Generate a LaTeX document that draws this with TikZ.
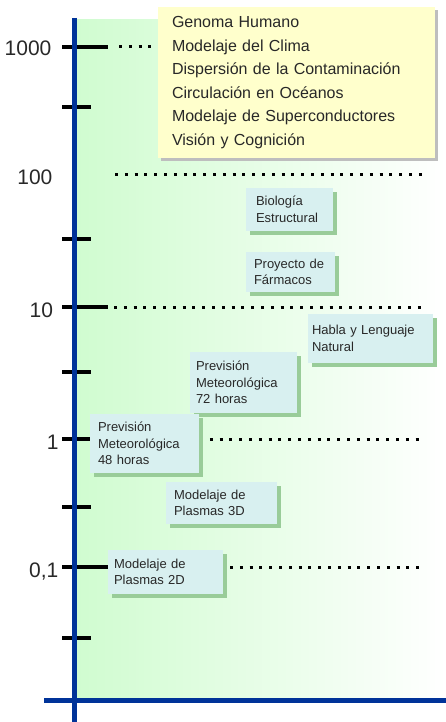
\documentclass[tikz,border=0pt]{standalone}
\usepackage{fontspec}
\setmainfont{Liberation Sans}
\usetikzlibrary{shadows}
\definecolor{axisblue}{RGB}{0,51,153}
\definecolor{bggreen}{RGB}{208,252,208}
\definecolor{boxfill}{RGB}{216,240,240}
\definecolor{boxshadow}{RGB}{153,204,153}
\definecolor{yelfill}{RGB}{255,255,204}
\definecolor{yelshadow}{RGB}{190,190,190}
\definecolor{txt}{RGB}{40,40,40}
\tikzset{
  app/.style={fill=boxfill, anchor=north west, outer sep=0pt, inner ysep=0pt,
    align=left, text=txt, font=\fontsize{13}{16.5}\selectfont,
    drop shadow={shadow xshift=4pt, shadow yshift=-4pt, fill=boxshadow, opacity=1}},
  yel/.style={fill=yelfill, anchor=north west, outer sep=0pt, inner ysep=0pt,
    align=left, text=txt, font=\fontsize{16}{23.5}\selectfont,
    drop shadow={shadow xshift=3pt, shadow yshift=-3pt, fill=yelshadow, opacity=1}},
  lab/.style={anchor=base east, inner sep=0pt, text=txt, font=\fontsize{21}{25}\selectfont},
  majtick/.style={line width=3.2pt, black},
  mintick/.style={line width=3.2pt, black},
  dots/.style={line width=3pt, black, dash pattern=on 3pt off 6.8pt},
  axisline/.style={line width=4.6pt, axisblue}
}
\begin{document}
\begin{tikzpicture}[x=1pt,y=-1pt]
\useasboundingbox (0,0) rectangle (446,722);
% background
\shade[left color=bggreen, right color=white] (77,20) rectangle (446,698);
% dotted guide lines
\draw[dots] (119,47) -- (422,47);
\draw[dots] (115,175) -- (422,175);
\draw[dots] (114,307) -- (422,307);
\draw[dots] (200,439) -- (422,439);
\draw[dots] (230,567) -- (422,567);
% ticks
\draw[majtick] (62,47) -- (108,47);
\draw[mintick] (62,107) -- (91,107);
\draw[mintick] (62,239) -- (91,239);
\draw[majtick] (62,307) -- (108,307);
\draw[mintick] (62,372) -- (91,372);
\draw[majtick] (62,439) -- (108,439);
\draw[mintick] (62,507) -- (91,507);
\draw[majtick] (62,567) -- (108,567);
\draw[mintick, line width=4.6pt] (62,638) -- (91,638);
% axes
\draw[axisline] (74.5,18) -- (74.5,722);
\draw[axisline] (44,700.3) -- (446,700.3);
% labels
\node[lab] (l1000) at (51.6,56) {1000};
\node[lab] (l100) at (52.6,185) {100};
\node[lab] (l10) at (53.2,317) {10};
\node[lab] (l1) at (58.8,449) {1};
\node[lab] (l01) at (58.5,577) {0,1};
% application boxes
\node[yel, minimum width=277pt, minimum height=151pt, inner xsep=14pt, text width=249pt] (apps) at (158,7)
  {Genoma Humano\\Modelaje del Clima\\Dispersión de la Contaminación\\Circulación en Océanos\\Modelaje de Superconductores\\Visión y Cognición};
\node[app, minimum width=87pt, minimum height=43pt, inner xsep=10pt, text width=67pt] (bio) at (246,188) {Biología\\Estructural};
\node[app, minimum width=89pt, minimum height=40pt, inner xsep=8pt, text width=73pt] (proy) at (246,252) {Proyecto~de\\Fármacos};
\node[app, minimum width=125pt, minimum height=49pt, inner xsep=4pt, text width=117pt] (habla) at (308,314) {Habla y Lenguaje\\Natural};
\node[app, minimum width=107pt, minimum height=61pt, inner xsep=6pt, text width=95pt] (prev72) at (190,352) {Previsión\\Meteorológica\\72 horas};
\node[app, minimum width=109pt, minimum height=59pt, inner xsep=8pt, text width=93pt] (prev48) at (90,414) {Previsión\\Meteorológica\\48 horas};
\node[app, minimum width=111pt, minimum height=42pt, inner xsep=8pt, text width=95pt] (pl3d) at (166,482) {Modelaje de\\Plasmas 3D};
\node[app, minimum width=115pt, minimum height=44pt, inner xsep=6pt, text width=103pt] (pl2d) at (108,550) {Modelaje de\\Plasmas 2D};
\end{tikzpicture}
\end{document}
